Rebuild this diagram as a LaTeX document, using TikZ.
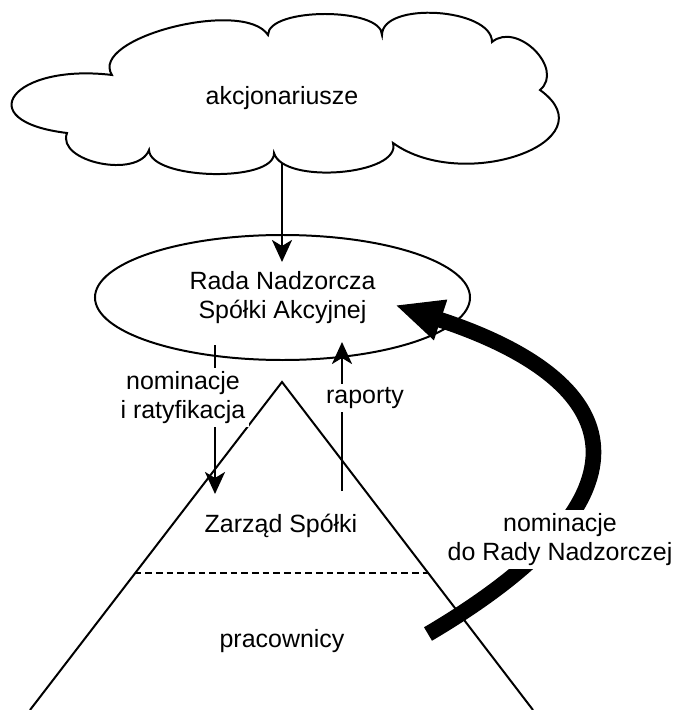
\documentclass[tikz,border=0pt]{standalone}
\usepackage{fontspec}
\setmainfont{Liberation Sans}
\usetikzlibrary{arrows.meta,shapes.geometric,positioning}
\tikzset{
  txt/.style={font=\fontsize{21.3}{24.7}\selectfont, align=center, inner sep=0.1cm},
  etykieta/.style={txt, fill=white},
  kontur/.style={line width=1.7pt},
  cienka/.style={line width=2.4pt, -{Stealth[length=0.66cm,width=0.6cm,inset=0.18cm]}},
  gruba/.style={line width=0.47cm, -{Triangle[length=1.44cm,width=1.17cm]}},
}

\begin{document}
\begin{tikzpicture}[x=0.03cm, y=-0.03cm]
        \useasboundingbox (0,0) rectangle (677,710);

        \draw[kontur] (112,75) .. controls (88,38) and (244,-2) .. (268,35)
            .. controls (268,7) and (382,7) .. (382,35)
            .. controls (382,1) and (492,8) .. (492,42)
            .. controls (517,21) and (565,69) .. (540,90)
            .. controls (611,141) and (464,194) .. (393,143)
            .. controls (402,175) and (283,185) .. (274,153)
            .. controls (275,183) and (150,180) .. (149,150)
            .. controls (138,179) and (56,162) .. (67,133)
            .. controls (-32,121) and (13,63) .. (112,75) -- cycle;
        \node (akc) [txt, anchor=base] at (282,105) {akcjonariusze};
        \coordinate (akcdol) at (282,163);

        \node (rada) [txt, ellipse, draw, kontur, inner sep=0, minimum width=11.25cm, minimum height=3.75cm] at (282.5,297.5) {Rada Nadzorcza\\Spółki Akcyjnej};
        \coordinate (radag) at (282,262);

        \coordinate (szczyt) at (282,382);
        \coordinate (lewy) at (30,710);
        \coordinate (prawy) at (533,710);
        \draw[kontur] (lewy) -- (szczyt) -- (prawy);
        \draw[line width=1.2pt, dash pattern=on 0.2cm off 0.12cm] (134.5,573) -- (428.5,573);

        \coordinate (nomg) at (215,345);   \coordinate (nomd) at (215,494);
        \coordinate (rapd) at (342,491);   \coordinate (rapg) at (342,342);
        \coordinate (start) at (428,634);  \coordinate (grot) at (395,305);

        \draw[cienka] (akcdol) -- (radag);
        \draw[cienka] (nomg) -- (nomd);
        \draw[cienka] (rapd) -- (rapg);
        \draw[gruba] (start) .. controls (652,502) and (642,386) .. (grot);

        \node (nomrat) [etykieta] at (183,397.5) {nominacje\\i ratyfikacja};
        \node (rap) [etykieta] at (365,398) {raporty};
        \node (nomrn) [etykieta] at (560,539.5) {nominacje\\do Rady Nadzorczej};
        \node (zarzad) [txt, anchor=base] at (281,532) {Zarząd Spółki};
        \node (prac) [txt, anchor=base] at (282,647) {pracownicy};
\end{tikzpicture}
\end{document}
